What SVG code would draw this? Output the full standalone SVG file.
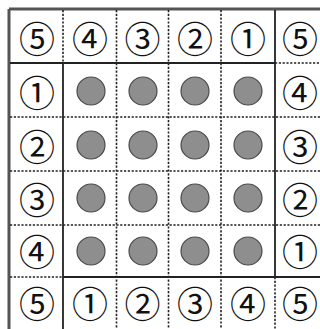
<svg xmlns="http://www.w3.org/2000/svg" width="320" height="329" viewBox="0 0 320 329">
<style>
.bg{fill:#fff}
.solid{stroke:#222;stroke-width:1.8;fill:none}
.dot{stroke:#222;stroke-width:1.6;stroke-dasharray:2.2 1.6;fill:none}
.border{stroke:#555;stroke-width:3;fill:none}
.num{font-family:"Noto Sans CJK JP","DejaVu Sans",sans-serif;font-size:36px;fill:#111;text-anchor:middle;dominant-baseline:central}
.disc{fill:#8e8e8e;stroke:#4a4a4a;stroke-width:1.2}
</style>
<rect class="bg" x="0" y="0" width="320" height="329"/>
<g id="grid">
  <line class="border" x1="9" y1="9" x2="320" y2="9"/>
  <line class="border" x1="9" y1="9" x2="9" y2="329"/>
  <line class="dot" x1="63" y1="10" x2="63" y2="63"/>
  <line class="dot" x1="116.5" y1="10" x2="116.5" y2="63"/>
  <line class="dot" x1="168.5" y1="10" x2="168.5" y2="63"/>
  <line class="dot" x1="221" y1="10" x2="221" y2="63"/>
  <line class="solid" x1="63" y1="63" x2="63" y2="329"/>
  <line class="solid" x1="275" y1="10" x2="275" y2="277"/>
  <line class="dot" x1="116.5" y1="63" x2="116.5" y2="329"/>
  <line class="dot" x1="168.5" y1="63" x2="168.5" y2="329"/>
  <line class="dot" x1="221" y1="63" x2="221" y2="329"/>
  <line class="dot" x1="275" y1="277" x2="275" y2="329"/>
  <line class="solid" x1="10" y1="63" x2="275" y2="63"/>
  <line class="dot" x1="275" y1="63" x2="320" y2="63"/>
  <line class="dot" x1="10" y1="117" x2="320" y2="117"/>
  <line class="dot" x1="10" y1="171" x2="320" y2="171"/>
  <line class="dot" x1="10" y1="225" x2="320" y2="225"/>
  <line class="dot" x1="10" y1="277" x2="63" y2="277"/>
  <line class="solid" x1="63" y1="277" x2="320" y2="277"/>
</g>
<g id="top-row">
  <g id="t1"><text class="num" x="37" y="37">⑤</text></g>
  <g id="t2"><text class="num" x="90" y="37">④</text></g>
  <g id="t3"><text class="num" x="142.5" y="37">③</text></g>
  <g id="t4"><text class="num" x="195" y="37">②</text></g>
  <g id="t5"><text class="num" x="248" y="37">①</text></g>
  <g id="t6"><text class="num" x="300" y="37">⑤</text></g>
</g>
<g id="left-col">
  <g id="l1"><text class="num" x="37" y="91">①</text></g>
  <g id="l2"><text class="num" x="37" y="144.5">②</text></g>
  <g id="l3"><text class="num" x="37" y="197.5">③</text></g>
  <g id="l4"><text class="num" x="37" y="250">④</text></g>
</g>
<g id="right-col">
  <g id="r1"><text class="num" x="300" y="91">④</text></g>
  <g id="r2"><text class="num" x="300" y="144.5">③</text></g>
  <g id="r3"><text class="num" x="300" y="197.5">②</text></g>
  <g id="r4"><text class="num" x="300" y="250">①</text></g>
</g>
<g id="bottom-row">
  <g id="b1"><text class="num" x="37" y="302">⑤</text></g>
  <g id="b2"><text class="num" x="90" y="302">①</text></g>
  <g id="b3"><text class="num" x="142.5" y="302">②</text></g>
  <g id="b4"><text class="num" x="195" y="302">③</text></g>
  <g id="b5"><text class="num" x="248" y="302">④</text></g>
  <g id="b6"><text class="num" x="300" y="302">⑤</text></g>
</g>
<g id="discs">
  <circle class="disc" cx="91" cy="91" r="14"/>
  <circle class="disc" cx="143" cy="91" r="14"/>
  <circle class="disc" cx="195" cy="91" r="14"/>
  <circle class="disc" cx="248" cy="91" r="14"/>
  <circle class="disc" cx="91" cy="145" r="14"/>
  <circle class="disc" cx="143" cy="145" r="14"/>
  <circle class="disc" cx="195" cy="145" r="14"/>
  <circle class="disc" cx="248" cy="145" r="14"/>
  <circle class="disc" cx="91" cy="198" r="14"/>
  <circle class="disc" cx="143" cy="198" r="14"/>
  <circle class="disc" cx="195" cy="198" r="14"/>
  <circle class="disc" cx="248" cy="198" r="14"/>
  <circle class="disc" cx="91" cy="251" r="14"/>
  <circle class="disc" cx="143" cy="251" r="14"/>
  <circle class="disc" cx="195" cy="251" r="14"/>
  <circle class="disc" cx="248" cy="251" r="14"/>
</g>
</svg>
